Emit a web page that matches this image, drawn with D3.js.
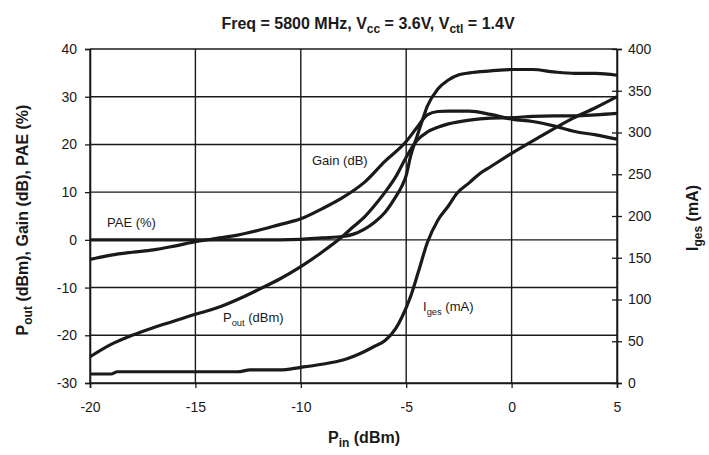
<!DOCTYPE html>
<html>
<head>
<meta charset="utf-8">
<script src="https://cdn.jsdelivr.net/npm/d3@7"></script>
<style>
body { margin: 0; background: #fff; }
svg text { font-family: "Liberation Sans", Arial, sans-serif; fill: #1a1a1a; }
</style>
</head>
<body>
<div class="chartfield"></div>
<script>
var width = 709;
var height = 455;

// P_in sweep (dBm) and the four curves
var gainX = [-20,-19,-18,-17,-16,-15,-14,-13,-12,-11,-10,-9,-8,-7,-6,-5,-4.5,-4,-3.5,-3,-2,-1,0,1,2,3,4,5];
var gainY = [-4.1,-3.2,-2.6,-2.1,-1.3,-0.4,0.3,1.0,2.0,3.2,4.4,6.5,8.9,12.0,16.5,20.6,23.5,26.2,26.9,27,27,26.3,25.3,24.8,23.9,22.7,22,21.1];

var poutX = [-20,-19,-18,-17,-16,-15,-14,-13,-12,-11,-10,-9,-8,-7.5,-7,-6.5,-6,-5.5,-5,-4.5,-4,-3.5,-3,-2,-1,0,1,2,3,4,5];
var poutY = [-24.5,-21.9,-20.0,-18.4,-17.0,-15.6,-14.3,-12.5,-10.4,-8.2,-5.6,-2.6,0.8,2.8,4.7,7.2,10.0,13.2,17.3,20.8,22.6,23.6,24.3,25.1,25.5,25.6,25.9,26,26,26.2,26.5];

var paeX = [-20,-18,-16,-14,-12,-11,-10,-9,-8,-7.5,-7,-6.5,-6,-5.5,-5.2,-5,-4.8,-4.5,-4.2,-4,-3.5,-3,-2.5,-2,-1,0,1,2,3,4,5];
var paeY = [0,0,0,0,0,0,0.1,0.4,0.7,1.2,2.2,3.7,5.8,9,11.3,13.5,17.4,21.5,25.5,28,31.6,33.5,34.6,35,35.4,35.7,35.7,35.2,34.9,34.9,34.5];

var igesX = [-20,-19,-18.7,-13,-12.4,-11,-10,-9,-8,-7,-6.5,-6,-5.5,-5.2,-4.8,-4.4,-4,-3.5,-3,-2.6,-2,-1.5,-1,0,1.35,2.9,4,5];
var igesY = [10.8,10.8,13.5,13.5,15.6,15.6,18.8,22.5,27.5,37.5,44,51,65,79,103,135,168,195,212,227,240,251,259,275,295,317,330,343];

var xTicks = [-20,-15,-10,-5,0,5];
var yLeftTicks = [-30,-20,-10,0,10,20,30,40];
var yRightTicks = [0,50,100,150,200,250,300,350,400];

var svg = d3.select(".chartfield")
	.append("svg")
	.attr("width", width)
	.attr("height", height);

var x = d3.scaleLinear().domain([-20,5]).range([90,617]);
var yL = d3.scaleLinear().domain([-30,40]).range([383,49]);
var yR = d3.scaleLinear().domain([0,400]).range([383,49]);

var ink = "#1a1a1a";
var plain = function(d){ return String(d); };

// grid
var grid = svg.append("g");
grid.selectAll("line.h").data(yLeftTicks).enter().append("line")
	.attr("x1", x(-20)).attr("x2", x(5))
	.attr("y1", function(d){ return yL(d); }).attr("y2", function(d){ return yL(d); })
	.attr("stroke", ink).attr("stroke-width", 1.4);
grid.selectAll("line.v").data(xTicks).enter().append("line")
	.attr("x1", function(d){ return x(d); }).attr("x2", function(d){ return x(d); })
	.attr("y1", yL(40)).attr("y2", yL(-30))
	.attr("stroke", ink).attr("stroke-width", 1.4);

// axes
var leftAxis = svg.append("g").attr("transform", "translate(" + x(-20) + ",0)")
	.call(d3.axisLeft(yL).tickValues(yLeftTicks).tickFormat(plain).tickSize(5).tickPadding(8));
var bottomAxis = svg.append("g").attr("transform", "translate(0," + yL(-30) + ")")
	.call(d3.axisBottom(x).tickValues(xTicks).tickFormat(plain).tickSize(5).tickPadding(14));
var rightAxis = svg.append("g").attr("transform", "translate(" + x(5) + ",0)")
	.call(d3.axisRight(yR).tickValues(yRightTicks).tickFormat(plain).tickSize(5).tickPadding(6));
rightAxis.selectAll(".tick line").attr("x1", -5);

[leftAxis, bottomAxis, rightAxis].forEach(function(a){
	a.select(".domain").attr("stroke", ink).attr("stroke-width", 1.6);
	a.selectAll(".tick line").attr("stroke", ink).attr("stroke-width", 1.3);
	a.selectAll(".tick text").attr("font-size", 14).attr("fill", ink)
		.style("font-family", "'Liberation Sans', Arial, sans-serif");
});

// curves
var lineL = d3.line().x(function(d){ return x(d[0]); }).y(function(d){ return yL(d[1]); }).curve(d3.curveMonotoneX);
var lineR = d3.line().x(function(d){ return x(d[0]); }).y(function(d){ return yR(d[1]); }).curve(d3.curveMonotoneX);

function pairs(a, b) { return a.map(function(v, i){ return [v, b[i]]; }); }

var curves = svg.append("g").attr("fill", "none").attr("stroke", ink)
	.attr("stroke-width", 3.2).attr("stroke-linejoin", "round");
curves.append("path").attr("d", lineL(pairs(paeX, paeY)));
curves.append("path").attr("d", lineL(pairs(gainX, gainY)));
curves.append("path").attr("d", lineL(pairs(poutX, poutY)));
curves.append("path").attr("d", lineR(pairs(igesX, igesY)));

// curve labels
function label(tx, ty, main, sub, rest, size) {
	var t = svg.append("text").attr("x", tx).attr("y", ty).attr("font-size", size);
	t.append("tspan").text(main);
	if (sub) {
		t.append("tspan").attr("dy", 4).attr("font-size", size * 0.72).text(sub);
		t.append("tspan").attr("dy", -4).text(rest);
	}
	return t;
}
label(312, 165, "Gain (dB)", null, null, 13);
label(107, 227, "PAE (%)", null, null, 13);
label(223, 322, "P", "out", " (dBm)", 13);
label(423, 311, "I", "ges", " (mA)", 13);

// title
var title = svg.append("text").attr("x", 368).attr("y", 29)
	.attr("text-anchor", "middle").attr("font-size", 16).attr("font-weight", "bold");
title.append("tspan").text("Freq = 5800 MHz, V");
title.append("tspan").attr("dy", 4).attr("font-size", 12).text("cc");
title.append("tspan").attr("dy", -4).text(" = 3.6V, V");
title.append("tspan").attr("dy", 4).attr("font-size", 12).text("ctl");
title.append("tspan").attr("dy", -4).text(" = 1.4V");

// axis titles
var xt = svg.append("text").attr("x", 364).attr("y", 443)
	.attr("text-anchor", "middle").attr("font-size", 16).attr("font-weight", "bold");
xt.append("tspan").text("P");
xt.append("tspan").attr("dy", 4).attr("font-size", 12).text("in");
xt.append("tspan").attr("dy", -4).text(" (dBm)");

var ylt = svg.append("text").attr("transform", "translate(28,220) rotate(-90)")
	.attr("text-anchor", "middle").attr("font-size", 16).attr("font-weight", "bold");
ylt.append("tspan").text("P");
ylt.append("tspan").attr("dy", 4).attr("font-size", 12).text("out");
ylt.append("tspan").attr("dy", -4).text(" (dBm), Gain (dB), PAE (%)");

var yrt = svg.append("text").attr("transform", "translate(698,218) rotate(-90)")
	.attr("text-anchor", "middle").attr("font-size", 16).attr("font-weight", "bold");
yrt.append("tspan").text("I");
yrt.append("tspan").attr("dy", 4).attr("font-size", 12).text("ges");
yrt.append("tspan").attr("dy", -4).text(" (mA)");
</script>
</body>
</html>
